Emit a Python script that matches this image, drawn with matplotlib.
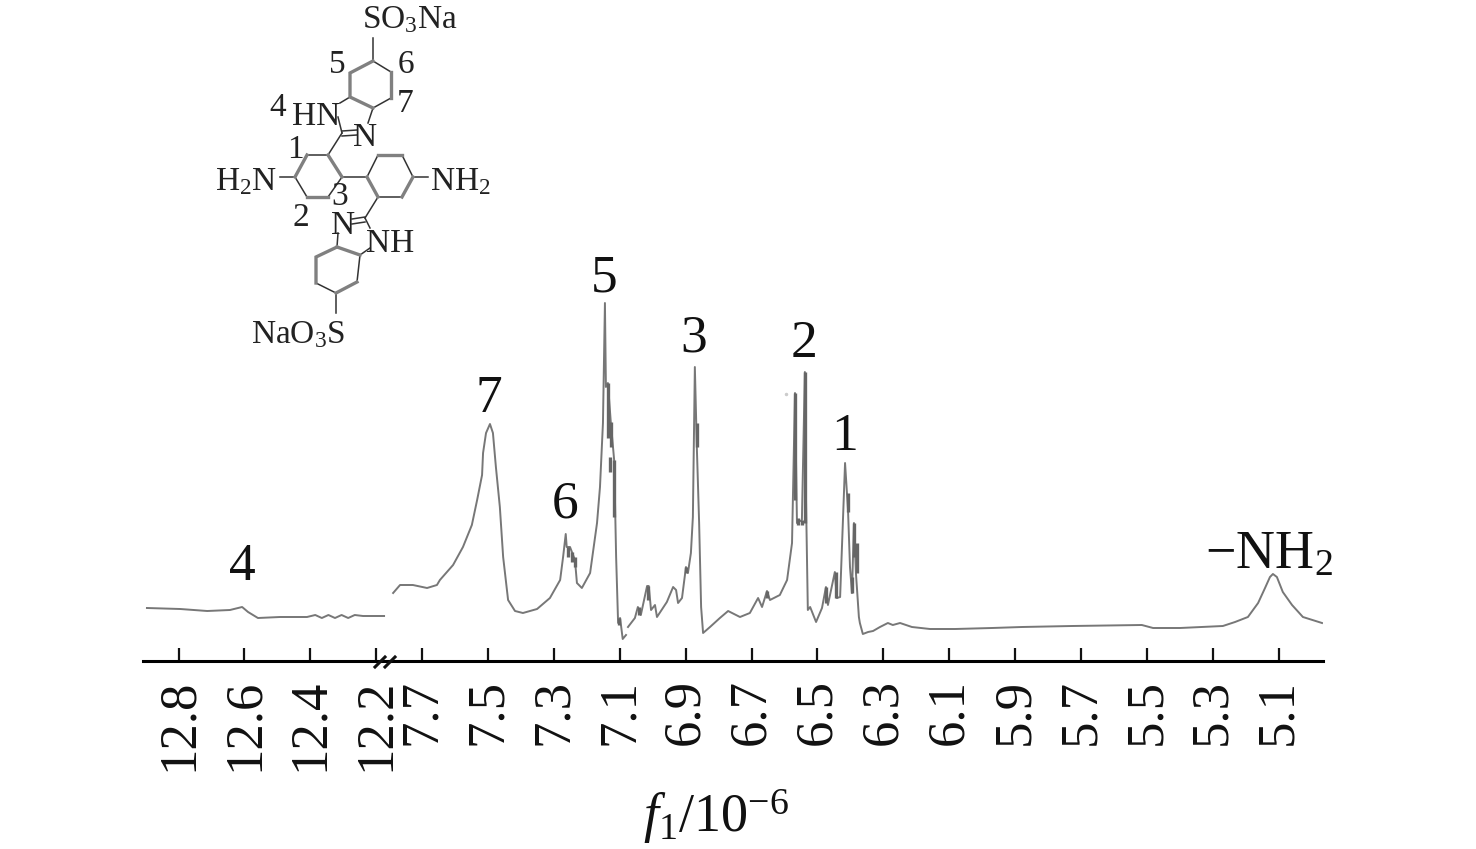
import numpy as np
import matplotlib
matplotlib.use('Agg')
import matplotlib.pyplot as plt

plt.rcParams['font.family'] = ['Liberation Serif', 'DejaVu Serif']
plt.rcParams['mathtext.fontset'] = 'custom'
plt.rcParams['mathtext.rm'] = 'Liberation Serif'
plt.rcParams['mathtext.it'] = 'Liberation Serif:italic'

# Spectrum, low field part (chemical shift / intensity)
left_shift = [12.896, 12.795, 12.713, 12.644, 12.607, 12.589, 12.559, 12.492, 12.410,
              12.385, 12.365, 12.345, 12.325, 12.305, 12.285, 12.265, 12.240, 12.176]
left_int = [53, 52, 50, 51, 54, 49, 43, 44, 44,
            46, 43, 46, 43, 46, 43, 46, 45, 45]

shift_a = [7.788, 7.767, 7.728, 7.685, 7.655, 7.646, 7.606, 7.576, 7.549, 7.533, 7.518, 7.515,
           7.506, 7.494, 7.485, 7.476, 7.464, 7.454, 7.439, 7.418, 7.394, 7.351, 7.312, 7.281]
int_a = [68, 76, 76, 73, 76, 81, 96, 114, 136, 161, 186, 208,
         228, 237, 228, 194, 154, 104, 61, 50, 48, 52, 63, 81]

shift_b = [7.272, 7.264, 7.261, 7.251, 7.236, 7.230, 7.215, 7.190, 7.169,
           7.160, 7.151, 7.145, 7.142, 7.136, 7.127, 7.117, 7.111,
           7.105, 7.099, 7.091, 7.081, 7.078, 7.075, 7.054, 7.045, 7.036, 7.017, 7.012, 7.005,
           6.993, 6.987, 6.957, 6.938, 6.929, 6.923, 6.911, 6.899, 6.893, 6.884, 6.878, 6.872,
           6.866, 6.859, 6.853, 6.847, 6.826, 6.796, 6.771, 6.735, 6.705, 6.680, 6.668,
           6.653, 6.644, 6.614, 6.592, 6.577, 6.568, 6.562, 6.547, 6.538, 6.535, 6.529, 6.522,
           6.504, 6.486, 6.474, 6.468, 6.447, 6.441, 6.431, 6.416, 6.407, 6.401, 6.395,
           6.389, 6.383, 6.374]
int_b = [104, 127, 114, 114, 101, 78, 73, 88, 138,
         174, 238, 358, 274, 278, 238, 201, 104,
         38, 43, 22, 26, np.nan, 34, 43, 54, 46, 75, 75, 51,
         56, 44, 59, 74, 71, 58, 63, 94, 88, 108, 144, 294,
         214, 138, 54, 28, 34, 43, 50, 44, 48, 63, 54,
         70, 61, 66, 81, 118, 268, 138, 141, 289, 171, 51, 54,
         39, 53, 74, 56, 89, 63, 64, 198, 151, 94, 68,
         138, 88, 44]

shift_c = [6.371, 6.362, 6.346, 6.331, 6.310, 6.286, 6.271, 6.249, 6.213, 6.158, 6.082, 5.970, 5.879,
           5.727, 5.515, 5.481, 5.399, 5.269, 5.232, 5.193, 5.162, 5.141, 5.126, 5.117, 5.105,
           5.087, 5.059, 5.026, 4.968]
int_c = [38, 27, 29, 30, 34, 38, 36, 38, 34, 32, 32, 33, 34,
         35, 36, 33, 33, 35, 39, 44, 58, 73, 84, 87, 84,
         69, 56, 44, 38]

main_shift = shift_a + shift_b + shift_c
main_int = int_a + int_b + int_c

# Blurred sub peaks that show up as short heavy bars: shift, top, bottom
bar_shift = [7.136, 7.127, 7.130, 7.117, 7.102, 7.257, 7.245, 7.236, 6.866, 6.899, 6.559, 6.547,
             6.538, 6.568, 6.407, 6.395, 6.389, 6.380, 6.444, 6.474, 7.014, 7.042, 6.653]
bar_top = [278, 239, 204, 201, 43, 114, 109, 104, 238, 94, 143, 141,
           289, 268, 168, 84, 138, 118, 89, 74, 75, 54, 70]
bar_bottom = [223, 214, 189, 144, 36, 104, 99, 94, 214, 88, 136, 136,
              138, 161, 149, 68, 104, 88, 63, 58, 61, 46, 63]

left_ticks = [12.8, 12.6, 12.4, 12.2]
main_ticks = [7.7, 7.5, 7.3, 7.1, 6.9, 6.7, 6.5, 6.3, 6.1, 5.9, 5.7, 5.5, 5.3, 5.1]

# Peak labels: text, shift, baseline height
left_peaks = [('4', 12.606, 81)]
main_peaks = [('7', 7.497, 249), ('6', 7.266, 143), ('5', 7.148, 370),
              ('3', 6.875, 309), ('2', 6.540, 304), ('1', 6.418, 211)]

W, H = 1476, 849
line_col = '#777777'
fig = plt.figure(figsize=(W / 100, H / 100), dpi=100)


def make_axes(x0, x1, lim, ticks):
    ax = fig.add_axes([x0 / W, (H - 661) / H, (x1 - x0) / W, 380 / H])
    ax.patch.set_alpha(0)
    ax.set_xlim(*lim)
    ax.set_ylim(0, 380)
    for s in ['top', 'left', 'right']:
        ax.spines[s].set_visible(False)
    ax.spines['bottom'].set_linewidth(2.2)
    ax.set_yticks([])
    ax.set_xticks(ticks)
    ax.set_xticklabels(['%.1f' % t for t in ticks], rotation=90, fontsize=38)
    ax.tick_params(axis='x', direction='in', length=9.5, width=1.6, pad=13, colors='#111111')
    return ax


ax1 = make_axes(143, 390, (12.908, 12.158), left_ticks)
ax2 = make_axes(390, 1323, (7.7975, 4.965), main_ticks)

ax1.plot(left_shift, left_int, color=line_col, lw=1.4)
ax2.plot(main_shift, main_int, color=line_col, lw=1.4)
ax2.vlines(bar_shift, bar_bottom, bar_top, color='#666666', lw=2.4)
ax2.plot([6.595], [267], '.', color='#cccccc', ms=3)

for ax, peaks in [(ax1, left_peaks), (ax2, main_peaks)]:
    for name, sx, sy in peaks:
        ax.text(sx, sy, name, fontsize=38.5, ha='center', va='baseline', color='#111111')
ax2.text(5.13, 93, '\u2212NH$_2$', fontsize=39, ha='center', va='baseline', color='#111111')

# Overlay in pixel units for the structure drawing and axis title
ov = fig.add_axes([0, 0, 1, 1])
ov.set_xlim(0, W)
ov.set_ylim(H, 0)
ov.axis('off')
ov.patch.set_alpha(0)

ov.plot([375, 385], [667, 657], color='#111111', lw=2.2)
ov.plot([385, 395], [667, 657], color='#111111', lw=2.2)
ov.text(716, 832, r'$\mathit{f}_{1}$/10$^{-6}$', fontsize=39, ha='center', va='baseline', color='#111111')

# Structure: bonds as (x, y) paths, thin dark and thick grey
thin_bonds = [
    [(373, 61), (373, 38)], [(373, 61), (391, 72)],
    [(350, 97), (340, 103)], [(373, 108), (368, 123)], [(391, 98), (373, 108)],
    [(338, 117), (342, 133)],
    [(342, 133), (328, 155)], [(328, 155), (307, 155)],
    [(295, 177), (280, 177)], [(342, 177), (367, 177)],
    [(367, 177), (378, 155)], [(413, 177), (428, 177)],
    [(295, 177), (307, 197)], [(342, 177), (328, 197)],
    [(402, 155), (413, 177)],
    [(378, 197), (365, 218)], [(402, 197), (378, 197)],
    [(338, 233), (337, 247)],
    [(360, 255), (370, 248)], [(336, 293), (336, 313)],
    [(316, 283), (336, 293)], [(342, 131), (357, 130)],
    [(342, 136), (357, 135)], [(365, 217), (352, 219)],
    [(365, 222), (352, 224)], [(365, 218), (370, 228)],
    [(360, 255), (357, 282)],
]
thick_bonds = [
    [(373, 61), (350, 73), (350, 97), (373, 108)],
    [(391, 72), (391, 98)],
    [(307, 155), (295, 177)], [(307, 197), (328, 197)],
    [(328, 155), (342, 177)],
    [(367, 177), (378, 197)],
    [(378, 155), (402, 155)], [(413, 177), (402, 197)],
    [(337, 247), (360, 255)], [(357, 282), (336, 293)],
    [(337, 247), (316, 257), (316, 283)],
]
for b in thin_bonds:
    ov.plot(*zip(*b), color='#333333', lw=1.1)
for b in thick_bonds:
    ov.plot(*zip(*b), color='#808080', lw=2.4, solid_joinstyle='miter')

mol_text = [
    ('SO$_3$Na', 410, 28), ('5', 337, 73), ('6', 406, 73),
    ('7', 405, 112), ('4', 278, 116), ('HN', 316, 125),
    ('N', 365, 146), ('1', 295, 158), ('H$_2$N', 246, 190),
    ('NH$_2$', 460, 190), ('3', 340, 205), ('2', 301, 226),
    ('N', 343, 234), ('NH', 390, 252), ('NaO$_3$S', 298, 343),
]
for s, x, y in mol_text:
    ov.text(x, y, s, fontsize=24, ha='center', va='baseline', color='#222222')

fig.savefig('out.png', dpi=100)
